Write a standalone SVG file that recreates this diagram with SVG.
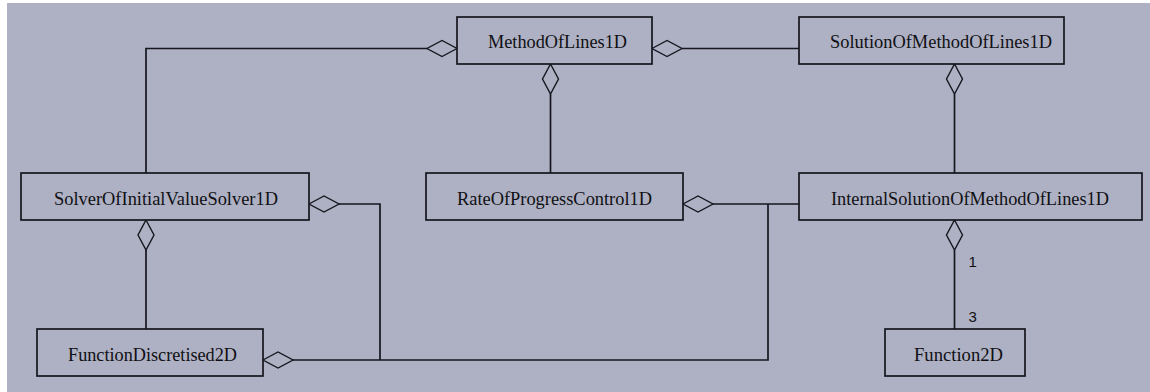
<svg xmlns="http://www.w3.org/2000/svg" width="1150" height="392" viewBox="0 0 1150 392">
  <style>
    .box { fill: #aeb0c3; stroke: #16161f; stroke-width: 1.7; }
    .lbl { font-family: "Liberation Serif", "Times New Roman", serif; font-size: 19px; fill: #101014; }
    .mult { font-family: "Liberation Sans", Arial, sans-serif; font-size: 15px; fill: #101014; }
    .ln { fill: none; stroke: #16161f; stroke-width: 1.7; }
    .agg { fill: #aeb0c3; stroke: #16161f; stroke-width: 1.4; }
  </style>
  <defs>
    <!-- hollow aggregation diamond, 30 long, 16 wide, pointing right from the origin -->
    <polygon id="diamond" points="0,0 15,-8 30,0 15,8"/>
  </defs>

  <!-- canvas with light left/top margin -->
  <rect x="0" y="0" width="1150" height="392" fill="#ffffff"/>
  <rect x="7" y="3" width="1143" height="389" fill="#aeb0c3"/>

  <g id="connectors">
    <!-- SolverOfInitialValueSolver1D to MethodOfLines1D -->
    <path class="ln" d="M146,173 V48.5 H427"/>
    <use href="#diamond" class="agg" transform="translate(457,48.5) rotate(180)"/>
    <!-- RateOfProgressControl1D to MethodOfLines1D -->
    <path class="ln" d="M550.5,94 V173"/>
    <use href="#diamond" class="agg" transform="translate(550.5,64) rotate(90)"/>
    <!-- SolutionOfMethodOfLines1D to MethodOfLines1D -->
    <path class="ln" d="M682,48.5 H799"/>
    <use href="#diamond" class="agg" transform="translate(652,48.5)"/>
    <!-- InternalSolutionOfMethodOfLines1D to SolutionOfMethodOfLines1D -->
    <path class="ln" d="M954.5,94 V173"/>
    <use href="#diamond" class="agg" transform="translate(954.5,64) rotate(90)"/>
    <!-- Function2D to InternalSolutionOfMethodOfLines1D -->
    <path class="ln" d="M954.5,250 V329"/>
    <use href="#diamond" class="agg" transform="translate(954.5,220) rotate(90)"/>
    <text class="mult" x="968.5" y="267">1</text>
    <text class="mult" x="968.5" y="321.5">3</text>
    <!-- FunctionDiscretised2D to SolverOfInitialValueSolver1D -->
    <path class="ln" d="M146,250 V329"/>
    <use href="#diamond" class="agg" transform="translate(146,220) rotate(90)"/>
    <!-- shared bus: Solver / RateOfProgress / FunctionDiscretised2D / InternalSolution -->
    <path class="ln" d="M339,204 H380 V360"/>
    <use href="#diamond" class="agg" transform="translate(309,204)"/>
    <path class="ln" d="M713,204 H799"/>
    <use href="#diamond" class="agg" transform="translate(683,204)"/>
    <path class="ln" d="M768,204 V360 H293"/>
    <use href="#diamond" class="agg" transform="translate(263,360)"/>
  </g>

  <g id="MethodOfLines1D">
    <rect class="box" x="457" y="17" width="195" height="47"/>
    <text class="lbl" x="488" y="48" textLength="139" lengthAdjust="spacingAndGlyphs">MethodOfLines1D</text>
  </g>
  <g id="SolutionOfMethodOfLines1D">
    <rect class="box" x="799" y="17" width="265" height="47"/>
    <text class="lbl" x="830" y="48" textLength="222" lengthAdjust="spacingAndGlyphs">SolutionOfMethodOfLines1D</text>
  </g>
  <g id="SolverOfInitialValueSolver1D">
    <rect class="box" x="21" y="173" width="288" height="47"/>
    <text class="lbl" x="54" y="205" textLength="224" lengthAdjust="spacingAndGlyphs">SolverOfInitialValueSolver1D</text>
  </g>
  <g id="RateOfProgressControl1D">
    <rect class="box" x="426" y="173" width="257" height="47"/>
    <text class="lbl" x="457" y="205" textLength="195" lengthAdjust="spacingAndGlyphs">RateOfProgressControl1D</text>
  </g>
  <g id="InternalSolutionOfMethodOfLines1D">
    <rect class="box" x="799" y="173" width="343" height="47"/>
    <text class="lbl" x="831" y="205" textLength="278" lengthAdjust="spacingAndGlyphs">InternalSolutionOfMethodOfLines1D</text>
  </g>
  <g id="FunctionDiscretised2D">
    <rect class="box" x="37" y="329" width="226" height="47"/>
    <text class="lbl" x="68" y="361" textLength="169" lengthAdjust="spacingAndGlyphs">FunctionDiscretised2D</text>
  </g>
  <g id="Function2D">
    <rect class="box" x="885" y="329" width="140" height="47"/>
    <text class="lbl" x="914" y="361" textLength="89" lengthAdjust="spacingAndGlyphs">Function2D</text>
  </g>
</svg>
